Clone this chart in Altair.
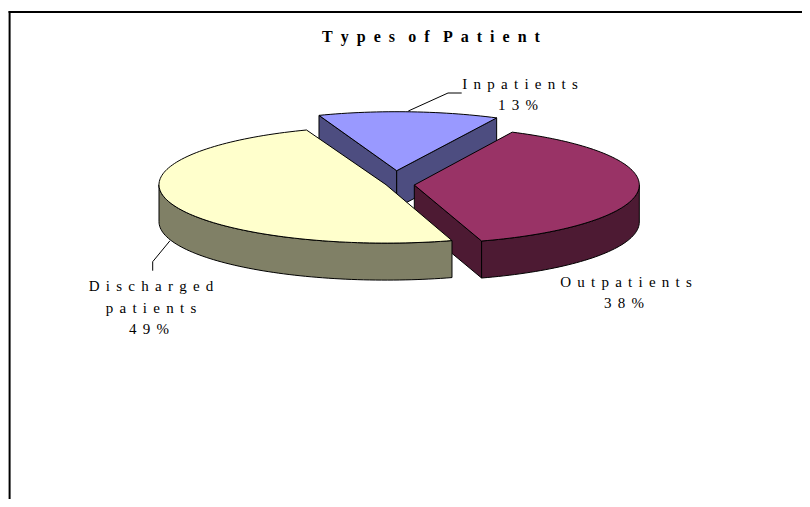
import math
import altair as alt
import pandas as pd

# --- values
categories = ["Inpatients", "Outpatients", "Discharged patients"]
shares = [13, 38, 49]
G = "\u2004\u200a"   # letter gap
E = "\u2002"          # title letter gap
W = "\u2002\u2004"    # title word gap
title_text = W.join(E.join(w) for w in "Types of Patient".split(" "))
label_words = ["Inpatients", "13%", "Outpatients", "38%", "Discharged", "patients", "49%"]
label_lines = [G.join(w) for w in label_words]

# --- styling / layout of the exploded 3-D pie
top_colors = ["#9999FF", "#993366", "#FFFFCC"]
side_colors = ["#4D4D80", "#4D1A33", "#808066"]
centres = [(396.7, 170.7), (414.3, 185.0), (386.0, 184.7)]
radii = [(224, 59), (225, 58.7), (227, 58.4)]
starts = [63.5, 287.4, 110.5]
DEPTH = 37
label_x = [520, 518, 626, 624, 151, 151, 149]
label_y = [89, 110, 287, 308, 291, 313, 334]
leaders = [[(408.3, 111), (448, 93), (461.7, 93)],
           [(170, 240.7), (152.7, 261.7), (152.7, 270.7)]]


def pt(i, t, drop=0):
    cx, cy = centres[i]
    a, b = radii[i]
    r = math.radians(t)
    return (cx + a * math.cos(r), cy - b * math.sin(r) + drop)


def arc(i, t0, t1, drop=0):
    n = max(2, int(abs(t1 - t0) / 1.5))
    return [pt(i, t0 + (t1 - t0) * k / n, drop) for k in range(n + 1)]


def feature(coords, fill):
    ring = [list(p) for p in coords]
    ring.append(ring[0])
    return {"type": "Feature", "properties": {"fill": fill},
            "geometry": {"type": "Polygon", "coordinates": [ring]}}


def quad(p, q, fill):
    return feature([p, q, (q[0], q[1] + DEPTH), (p[0], p[1] + DEPTH)], fill)


def wall(i, t0, t1, fill):
    return feature(arc(i, t0, t1) + arc(i, t1, t0, DEPTH), fill)


def top(i, t0, t1, fill):
    return feature([centres[i]] + arc(i, t0, t1), fill)


span = [s * 3.6 for s in shares]
ends = [s + d for s, d in zip(starts, span)]
features = []
features += [quad(pt(0, ends[0]), centres[0], side_colors[0]),
             quad(centres[0], pt(0, starts[0]), side_colors[0]),
             top(0, starts[0], ends[0], top_colors[0])]
features += [quad(centres[1], pt(1, starts[1]), side_colors[1]),
             wall(1, starts[1], 360, side_colors[1]),
             top(1, starts[1], ends[1], top_colors[1])]
features += [wall(2, 180, ends[2], side_colors[2]),
             top(2, starts[2], ends[2], top_colors[2])]

proj = dict(type="identity", scale=1, translate=[-8, -8])

pie = alt.Chart(alt.Data(values=features)).mark_geoshape(
    stroke="black", strokeWidth=1, strokeJoin="round"
).encode(fill=alt.Color("properties.fill:N", scale=None, legend=None)).project(**proj)

lead_feats = [{"type": "Feature", "properties": {},
               "geometry": {"type": "LineString", "coordinates": [list(p) for p in l]}}
              for l in leaders]
lead = alt.Chart(alt.Data(values=lead_feats)).mark_geoshape(
    filled=False, stroke="black", strokeWidth=1
).project(**proj)

frame_left = alt.Chart(pd.DataFrame({"a": [0]})).mark_rule(color="black", strokeWidth=2).encode(
    x=alt.value(1.6), y=alt.value(3), y2=alt.value(491))
frame_top = alt.Chart(pd.DataFrame({"a": [0]})).mark_rule(color="black", strokeWidth=2).encode(
    x=alt.value(0.6), x2=alt.value(794), y=alt.value(4))

labels = pd.DataFrame({"t": label_lines,
                       "x": [v - 8 for v in label_x],
                       "y": [v - 8 for v in label_y]})
label_layer = alt.Chart(labels).mark_text(
    font="Liberation Serif", fontSize=15, color="black", align="center", baseline="alphabetic"
).encode(x=alt.X("x:Q", scale=None), y=alt.Y("y:Q", scale=None), text="t:N")

title_df = pd.DataFrame({"t": [title_text], "x": [431 - 8], "y": [42 - 8]})
title_layer = alt.Chart(title_df).mark_text(
    font="Liberation Serif", fontSize=16, fontWeight="bold", color="black",
    align="center", baseline="alphabetic"
).encode(x=alt.X("x:Q", scale=None), y=alt.Y("y:Q", scale=None), text="t:N")

chart = alt.layer(
    frame_left, frame_top, pie, lead, label_layer, title_layer
).properties(
    width=794, height=491, padding=0, background="white",
    autosize=alt.AutoSizeParams(type="none")
).configure_view(stroke=None)

chart.save("out.html", embed_options={"renderer": "svg", "actions": False})
